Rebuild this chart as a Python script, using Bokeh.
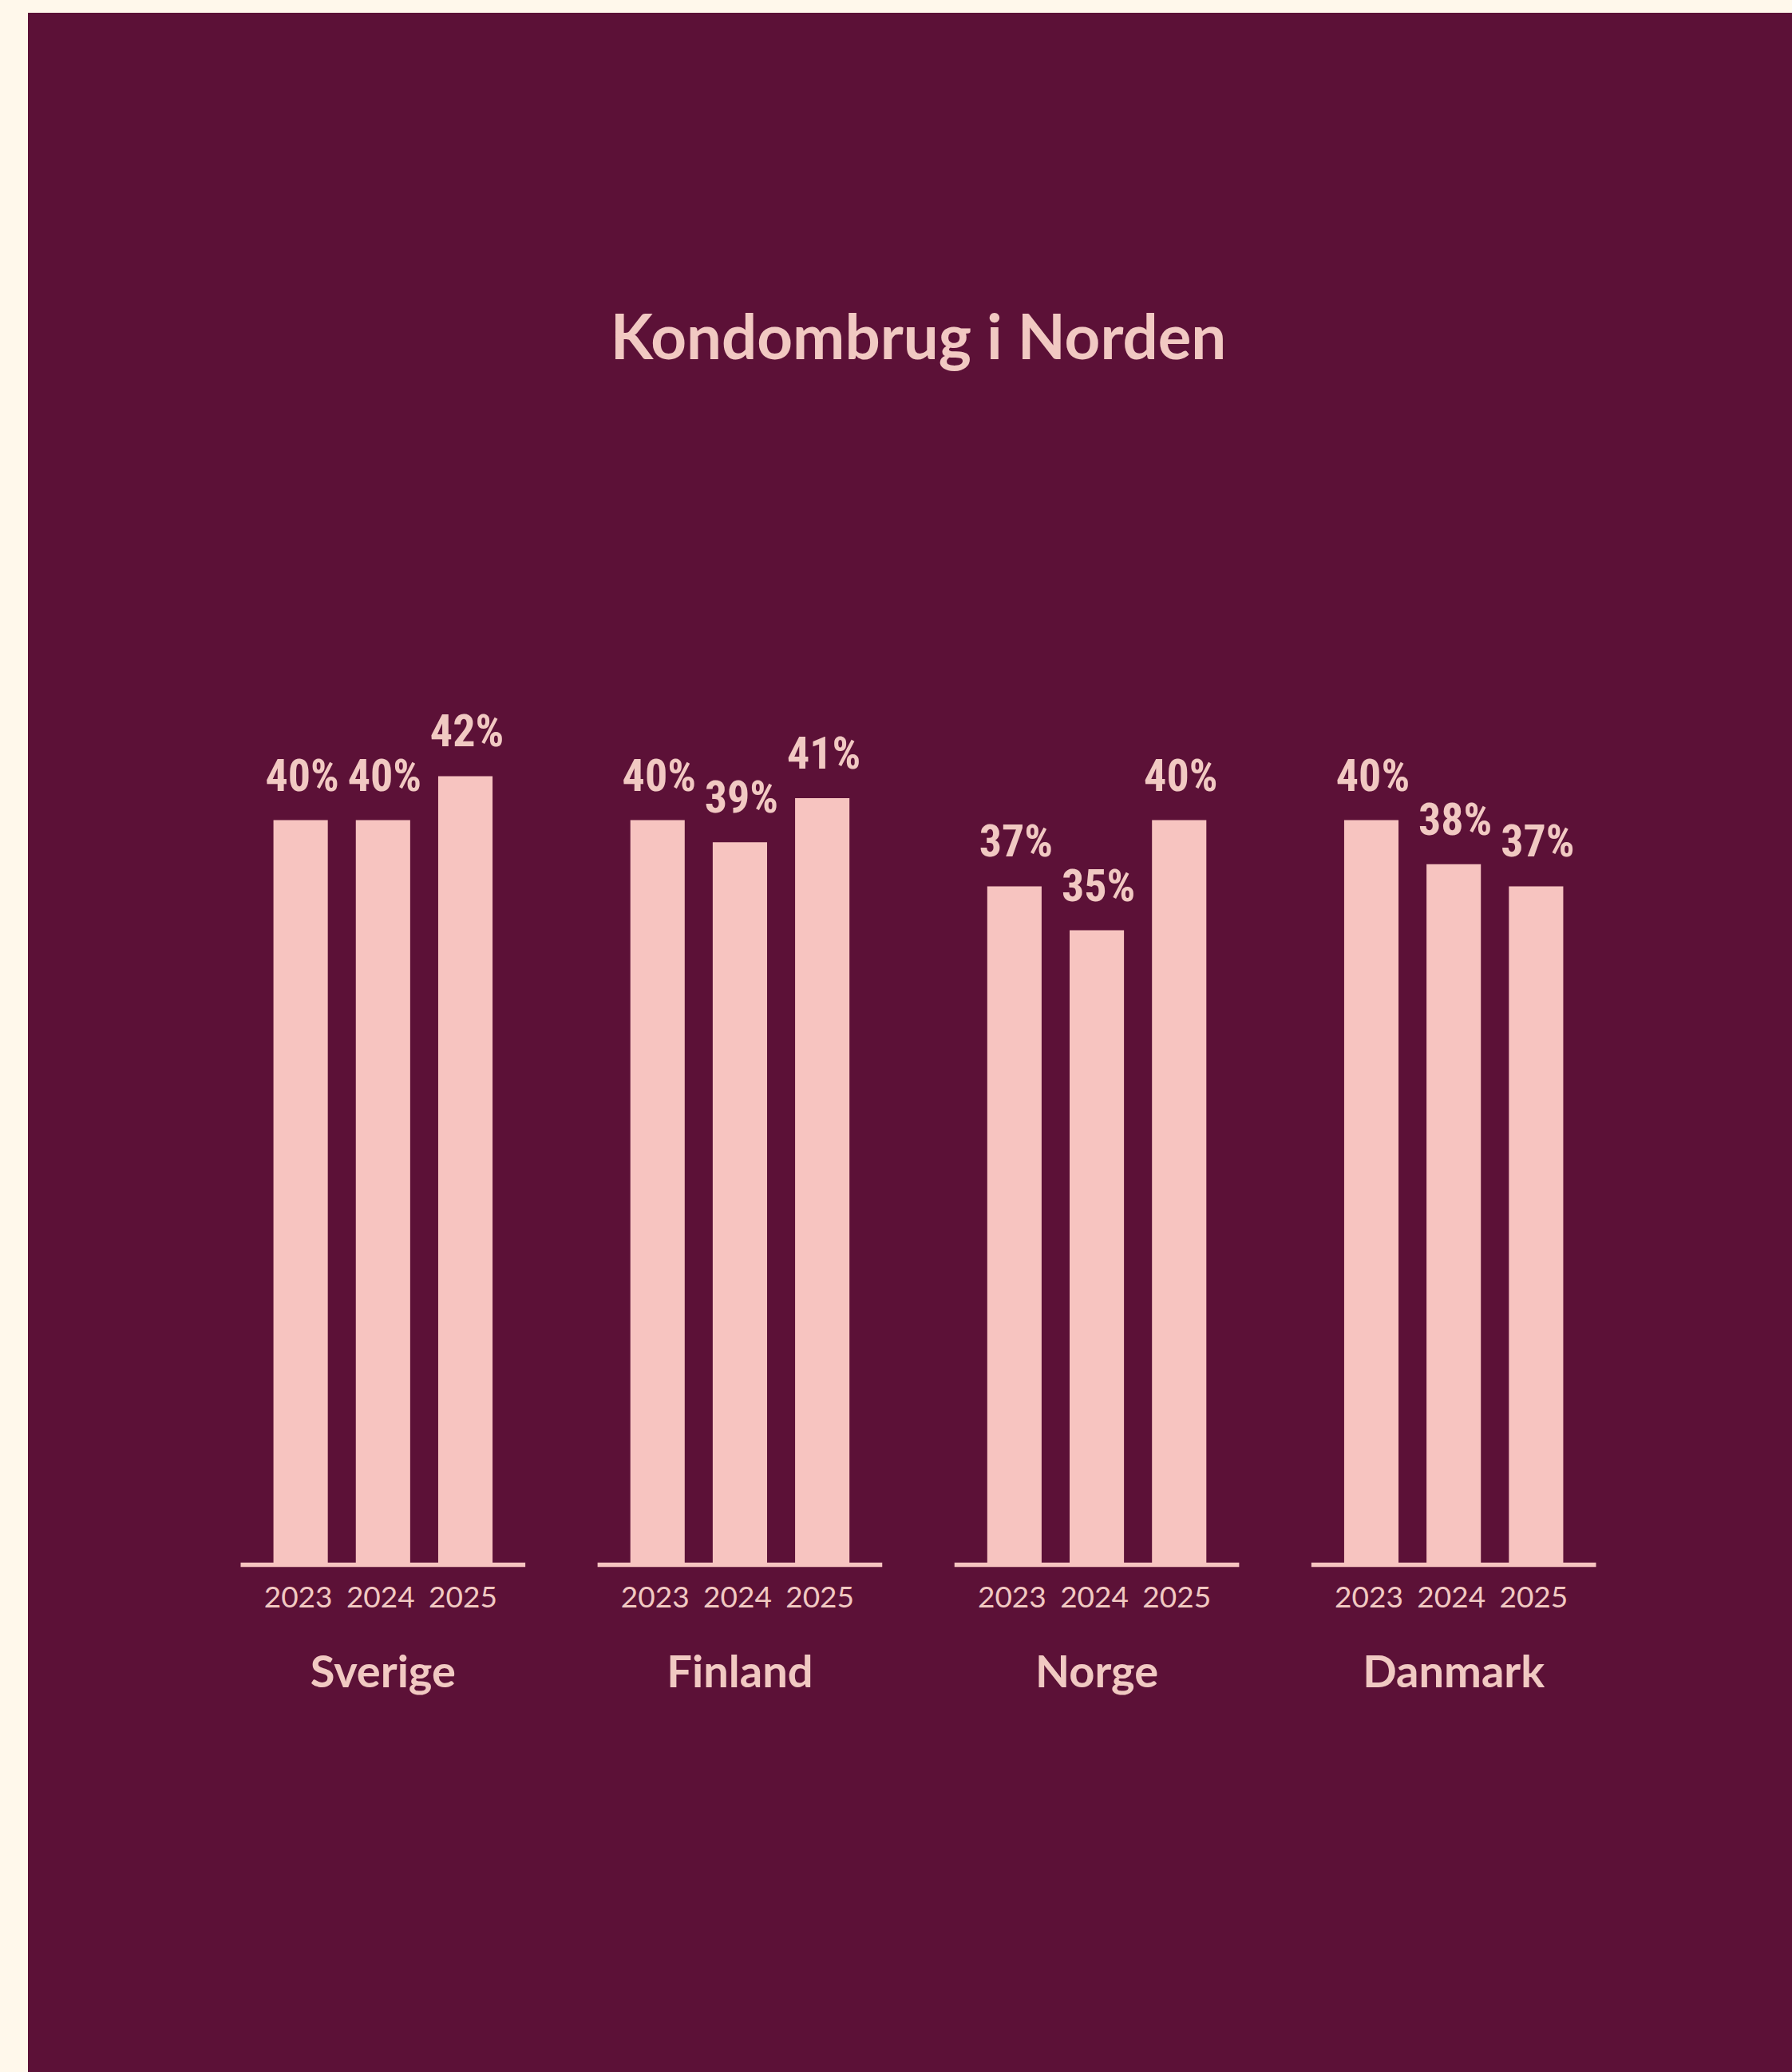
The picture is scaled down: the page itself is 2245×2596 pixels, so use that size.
from bokeh.plotting import figure
from bokeh.models import FactorRange, Range1d, ColumnDataSource, LabelSet
from bokeh.core.properties import value
from bokeh.transform import dodge
from bokeh.embed import file_html
from bokeh.resources import INLINE

# ---------------- data ----------------
title_text = "Kondombrug i Norden"
countries = ["Sverige", "Finland", "Norge", "Danmark"]
years = ["2023", "2024", "2025"]
sverige = [40, 40, 42]
finland = [40, 39, 41]
norge = [37, 35, 40]
danmark = [40, 38, 37]

# ---------------- style ----------------
MAROON = "#5C1137"
CREAM = "#FFF8EB"
BAR = "#F7C4C0"
TXT = "#F1C9C2"
COND = "'Roboto Condensed', 'DejaVu Sans Condensed', sans-serif"

FIG_W, FIG_H = 2210, 2580
TOP = 455          # frame top inside figure (px)
LEFT = 20          # frame left inside figure (px)
PX_PER_PCT = 27.6  # vertical scale
BASE = 6.2         # value at the baseline line
BASE_Y = 1944      # baseline position inside figure (px)

series = [sverige, finland, norge, danmark]
factors = [(c, y) for c in countries for y in years]
vals = [v for s in series for v in s]
labels = [f"{v}%" for v in vals]
yrs = [y for c in countries for y in years]

src = ColumnDataSource(dict(x=factors, v=vals, label=labels, year=yrs))
csrc = ColumnDataSource(dict(country=countries))

y_start = BASE + (BASE_Y - FIG_H) / PX_PER_PCT
y_end = BASE + (BASE_Y - TOP) / PX_PER_PCT

xr = FactorRange(*factors, range_padding=2.612, range_padding_units="absolute",
                 group_padding=1.333, factor_padding=0)

p = figure(x_range=xr, y_range=Range1d(y_start, y_end),
           width=FIG_W, height=FIG_H, output_backend="svg", toolbar_location=None,
           x_axis_location=None, y_axis_location=None,
           min_border_left=LEFT, min_border_right=0, min_border_top=TOP, min_border_bottom=0,
           background_fill_color=None, border_fill_color=None,
           outline_line_color=None)
p.styles = {"background-color": MAROON}
p.grid.visible = False

p.title.text = title_text
p.title.align = "center"
p.title.text_font = "Lato"
p.title.text_font_style = "bold"
p.title.text_font_size = "78px"
p.title.text_color = TXT
p.title.standoff = 10

p.vbar(x="x", top="v", bottom=BASE, width=0.66, source=src,
       fill_color=BAR, line_color=None)

p.segment(x0=dodge("country", -1.728, range=xr), x1=dodge("country", 1.728, range=xr),
          y0=BASE, y1=BASE, source=csrc, line_color=BAR, line_width=5.5)

p.add_layout(LabelSet(x="x", y="v", text="label", source=src, y_offset=37, x_offset=2,
                      text_align="center", text_baseline="alphabetic",
                      text_font=value(COND), text_font_style="bold",
                      text_font_size="56px", text_color=TXT))

p.add_layout(LabelSet(x="x", y=BASE, text="year", source=src, y_offset=-53, x_offset=-3,
                      text_align="center", text_baseline="alphabetic",
                      text_font=value("Lato"), text_font_size="37px", text_color=TXT))

p.add_layout(LabelSet(x="country", y=BASE, text="country", source=csrc, y_offset=-153,
                      text_align="center", text_baseline="alphabetic",
                      text_font=value("Lato"), text_font_style="bold",
                      text_font_size="56px", text_color=TXT))

html = file_html(p, INLINE)
page_css = ("<style>html, body { background-color: %s; } "
            "body { margin: 0; padding: 16px 0 0 35px; overflow: hidden; }</style>" % CREAM)
html = html.replace("</head>", page_css + "</head>", 1)
open("out.html", "w").write(html)
